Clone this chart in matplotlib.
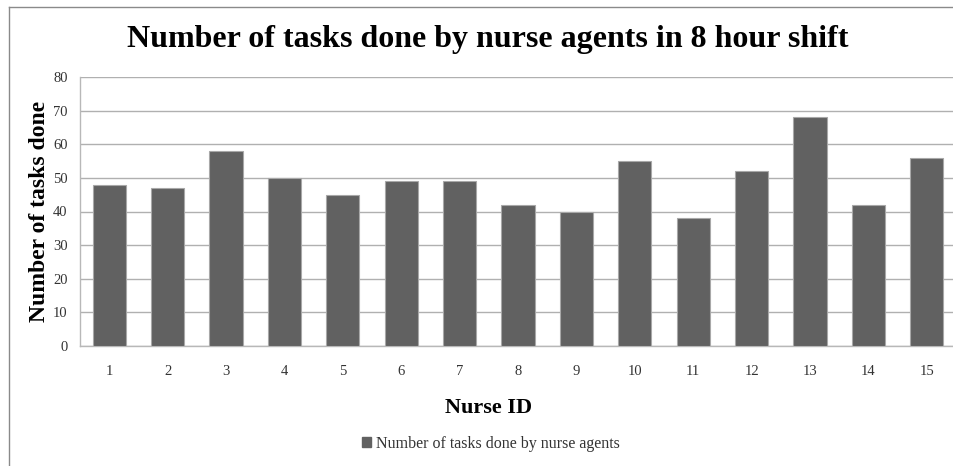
import matplotlib
matplotlib.use("Agg")
import matplotlib.pyplot as plt
from matplotlib.lines import Line2D
from matplotlib.patches import Patch

nurse_ids = [str(i) for i in range(1, 16)]
tasks_done = [48, 47, 58, 50, 45, 49, 49, 42, 40, 55, 38, 52, 68, 42, 56]
y_ticks = [0, 10, 20, 30, 40, 50, 60, 70, 80]

title = "Number of tasks done by nurse agents in 8 hour shift"
x_label = "Nurse ID"
y_label = "Number of tasks done"
legend_label = "Number of tasks done by nurse agents"

plt.rcParams['font.family'] = ['Liberation Serif', 'DejaVu Serif']

W, H = 954, 466
fig = plt.figure(figsize=(W / 100, H / 100), dpi=100)
fig.patch.set_facecolor('white')

left, right, top, bottom = 80, 956, 77, 346
ax = fig.add_axes([left / W, 1 - bottom / H, (right - left) / W, (bottom - top) / H])

x = list(range(len(nurse_ids)))
ax.bar(x, tasks_done, width=0.57, color='#616161', edgecolor='#a8a8a8', linewidth=0.8,
       zorder=3, label=legend_label)

ax.set_xlim(-0.5, len(nurse_ids) - 0.5)
ax.set_ylim(0, 80)
ax.set_yticks(y_ticks)
ax.set_yticklabels([str(v) for v in y_ticks], fontsize=10.5, color='#333333')
ax.set_xticks(x)
ax.set_xticklabels(nurse_ids, fontsize=10.5, color='#333333')
ax.tick_params(axis='both', length=0, pad=9)
ax.tick_params(axis='x', pad=14)
ax.grid(axis='y', color='#b0b0b0', linewidth=1.0, zorder=0)
for s in ['top', 'right']:
    ax.spines[s].set_visible(False)
for s in ['left', 'bottom']:
    ax.spines[s].set_color('#b8b8b8')
    ax.spines[s].set_linewidth(1.0)

fig.text(488 / W, 1 - 40 / H, title, ha='center', va='center', fontsize=23, fontweight='bold')
fig.text(489 / W, 1 - 408 / H, x_label, ha='center', va='center', fontsize=16, fontweight='bold')
fig.text(40 / W, 1 - 211 / H, y_label, ha='center', va='center', fontsize=17, fontweight='bold',
         rotation=90)

handles = [Patch(facecolor='#616161', edgecolor='#616161')]
fig.legend(handles, [legend_label], loc='center', bbox_to_anchor=(491 / W, 1 - 444 / H),
           frameon=False, fontsize=11.5, handlelength=0.6, handleheight=0.6,
           handletextpad=0.3, labelcolor='#333333')

# outer chart frame (top and left edges visible)
fig.add_artist(Line2D([9 / W, 1.0], [1 - 7 / H, 1 - 7 / H], transform=fig.transFigure,
                      color='#8a8a8a', linewidth=1.0))
fig.add_artist(Line2D([9 / W, 9 / W], [0, 1 - 7 / H], transform=fig.transFigure,
                      color='#8a8a8a', linewidth=1.0))

fig.savefig('out.png', dpi=100, facecolor='white')
